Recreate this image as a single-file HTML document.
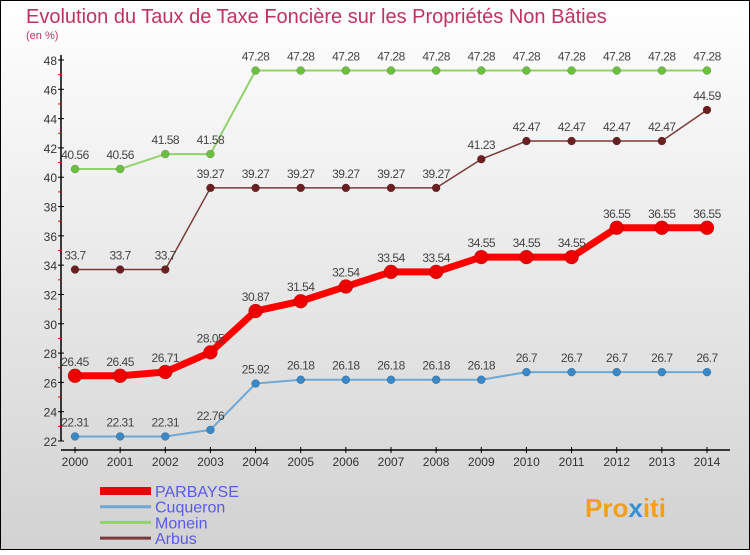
<!DOCTYPE html>
<html><head><meta charset="utf-8"><style>
html,body{margin:0;padding:0;}
body{width:750px;height:550px;overflow:hidden;font-family:"Liberation Sans",sans-serif;}
</style></head><body>
<svg id="c" width="750" height="550" xmlns="http://www.w3.org/2000/svg">
<defs><linearGradient id="bg" x1="0" y1="0" x2="0" y2="1"><stop offset="0" stop-color="#ffffff"/><stop offset="1" stop-color="#d2d2d2"/></linearGradient></defs>
<rect x="0.5" y="0.5" width="749" height="549" fill="url(#bg)" stroke="#000"/>
<text x="26" y="23" font-size="20" fill="#c0325e">Evolution du Taux de Taxe Foncière sur les Propriétés Non Bâties</text>
<text x="26" y="39" font-size="11" fill="#c0325e">(en %)</text>
<g id="axes"></g>
<g id="series"></g>
<g id="legend"></g>
<text x="585" y="517" font-size="26" font-weight="bold" fill="#f0a020">Pro<tspan fill="#3a8fd0">x</tspan>iti</text>
</svg>
<script>
const years=[2000,2001,2002,2003,2004,2005,2006,2007,2008,2009,2010,2011,2012,2013,2014];
const yTicks=[22,24,26,28,30,32,34,36,38,40,42,44,46,48];
const seriesNames=["PARBAYSE","Cuqueron","Monein","Arbus"];
const parbayse=[26.45,26.45,26.71,28.05,30.87,31.54,32.54,33.54,33.54,34.55,34.55,34.55,36.55,36.55,36.55];
const cuqueron=[22.31,22.31,22.31,22.76,25.92,26.18,26.18,26.18,26.18,26.18,26.7,26.7,26.7,26.7,26.7];
const monein=[40.56,40.56,41.58,41.58,47.28,47.28,47.28,47.28,47.28,47.28,47.28,47.28,47.28,47.28,47.28];
const arbus=[33.7,33.7,33.7,39.27,39.27,39.27,39.27,39.27,39.27,41.23,42.47,42.47,42.47,42.47,44.59];
const NS="http://www.w3.org/2000/svg";
function X(i){return 75+i*(707-75)/(years.length-1);}
function Y(v){return 441-(v-22)*(441-60)/26;}
function mk(t,a,p){const e=document.createElementNS(NS,t);for(const k in a)e.setAttribute(k,a[k]);p.appendChild(e);return e;}
const ax=document.getElementById('axes');
let yl=mk('line',{x1:61,y1:55,x2:61,y2:441,stroke:'#000','stroke-width':1.5},ax);


let xl=mk('line',{x1:61,y1:450,x2:730,y2:450,stroke:'#000','stroke-width':1.5},ax);


yTicks.forEach(v=>{
 mk('line',{x1:58,y1:Y(v),x2:64,y2:Y(v),stroke:'#000'},ax);
 if(v<48) mk('line',{x1:58,y1:Y(v+1),x2:61,y2:Y(v+1),stroke:'#e00'},ax);
 const t=mk('text',{x:57,y:Y(v)+5,'text-anchor':'end','font-size':12,fill:'#333'},ax);t.textContent=v;
 
 
});
years.forEach((y,i)=>{
 mk('line',{x1:X(i),y1:447,x2:X(i),y2:453,stroke:'#000'},ax);
 const t=mk('text',{x:X(i),y:466,'text-anchor':'middle','font-size':12,fill:'#333'},ax);t.textContent=y;
 
 
});
const sg=document.getElementById('series');
const defs=[[monein,'#8fd36a','#6cc040',2,4,'monein'],[arbus,'#7a3a3a','#6a2020',1.5,4,'arbus'],[cuqueron,'#6ea8d4','#3a88c8',2,4,'cuqueron'],[parbayse,'#ff0000','#ee0000',7,7,'parbayse']];
defs.forEach(([d,lc,pc,w,r,n])=>{
 const g=mk('g',{},sg);
 
 
 const pl=mk('polyline',{points:d.map((v,i)=>X(i)+','+Y(v)).join(' '),fill:'none',stroke:lc,'stroke-width':w,'stroke-linejoin':'round'},g);
 
 
 d.forEach((v,i)=>{
  const c=mk('circle',{cx:X(i),cy:Y(v),r:r,fill:pc,stroke:'rgba(0,0,0,0.3)','stroke-width':0.5},g);
  
  
  const t=mk('text',{x:X(i),y:Y(v)-10,'text-anchor':'middle','font-size':12,fill:'#444','letter-spacing':'-0.5'},g);
  t.textContent=String(v);
  
  
 });
});
const lg=document.getElementById('legend');
const lc=['#ee0000','#6ea8d4','#8fd36a','#7a3a3a'],lw=[8,3,3,3];
seriesNames.forEach((s,i)=>{
 const y=491+i*15.7;
 const g=mk('g',{},lg);
 
 
 mk('line',{x1:100,y1:y,x2:151,y2:y,stroke:lc[i],'stroke-width':lw[i]},g);
 const t=mk('text',{x:155,y:y+6,'font-size':16,fill:'#5a5ae8'},g);t.textContent=s;
});
</script>
</body></html>
